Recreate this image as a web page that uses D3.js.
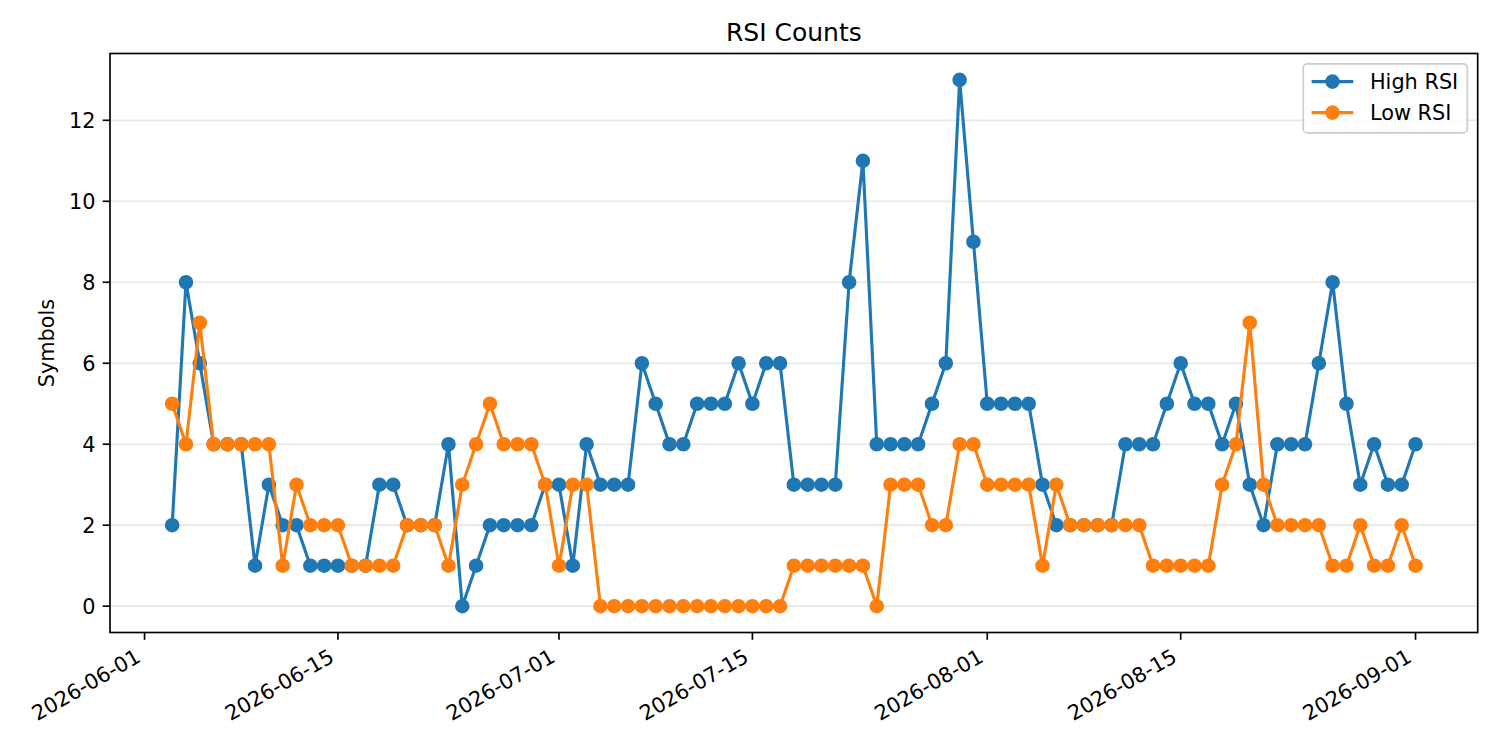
<!DOCTYPE html>
<html>
<head>
<meta charset="utf-8">
<script src="https://cdn.jsdelivr.net/npm/d3@7"></script>
<style>
    body { margin: 0; background: #fff; }
    svg { display: block; font-family: "DejaVu Sans", sans-serif; }
</style>
</head>
<body>
<svg id="chart" width="1500" height="750"></svg>
<script>
// one point per day, 2026-06-03 .. 2026-09-01
const firstDay = "2026-06-03";
const lastDay = "2026-09-01";

const highRsi = [
    2, 8, 6, 4, 4, 4, 1, 3, 2, 2, 1, 1, 1, 1, 1, 3, 3, 2, 2, 2, 4, 0, 1, 2, 2, 2, 2, 3,
    3, 1, 4, 3, 3, 3, 6, 5, 4, 4, 5, 5, 5, 6, 5, 6, 6, 3, 3, 3, 3, 8, 11, 4, 4, 4, 4, 5, 6, 13, 9,
    5, 5, 5, 5, 3, 2, 2, 2, 2, 2, 4, 4, 4, 5, 6, 5, 5, 4, 5, 3, 2, 4, 4, 4, 6, 8, 5, 3, 4, 3, 3,
    4
];
const lowRsi = [
    5, 4, 7, 4, 4, 4, 4, 4, 1, 3, 2, 2, 2, 1, 1, 1, 1, 2, 2, 2, 1, 3, 4, 5, 4, 4, 4, 3,
    1, 3, 3, 0, 0, 0, 0, 0, 0, 0, 0, 0, 0, 0, 0, 0, 0, 1, 1, 1, 1, 1, 1, 0, 3, 3, 3, 2, 2, 4, 4,
    3, 3, 3, 3, 1, 3, 2, 2, 2, 2, 2, 2, 1, 1, 1, 1, 1, 3, 4, 7, 3, 2, 2, 2, 2, 1, 1, 2, 1, 1, 2,
    1
];

const seriesNames = ["High RSI", "Low RSI"];
const seriesColors = ["#1f77b4", "#ff7f0e"];

const xTicks = ["2026-06-01", "2026-06-15", "2026-07-01", "2026-07-15", "2026-08-01", "2026-08-15", "2026-09-01"];
const yTicks = [0, 2, 4, 6, 8, 10, 12];

// sizes follow a 10x5in figure at 150dpi
const pt = 150 / 72;
const box = { left: 110, top: 53.5, right: 1477.7, bottom: 632.5 };
const fontSize = 10 * pt;

const parseDay = d3.utcParse("%Y-%m-%d");
let dates = d3.utcDay.range(parseDay(firstDay), d3.utcDay.offset(parseDay(lastDay), 1));

// matplotlib style 5% margins
let x0 = parseDay(firstDay), x1 = parseDay(lastDay);
let xPad = (x1 - x0) * 0.05;
let x = d3.scaleUtc()
    .domain([new Date(+x0 - xPad), new Date(+x1 + xPad)])
    .range([box.left, box.right]);

let yMax = d3.max(highRsi.concat(lowRsi));
let y = d3.scaleLinear()
    .domain([-yMax * 0.05, yMax * 1.05])
    .range([box.bottom, box.top]);

let svg = d3.select("#chart");

// horizontal grid
svg.append("g")
    .selectAll("line")
    .data(yTicks)
    .enter()
    .append("line")
    .attr("x1", box.left)
    .attr("x2", box.right)
    .attr("y1", d => y(d))
    .attr("y2", d => y(d))
    .attr("stroke", "#b0b0b0")
    .attr("stroke-opacity", 0.3)
    .attr("stroke-width", 0.8 * pt);

// series
let lineGen = d3.line()
    .x((d, i) => x(dates[i]))
    .y(d => y(d));

[highRsi, lowRsi].forEach((values, k) => {
    let g = svg.append("g");
    g.append("path")
        .datum(values)
        .attr("d", lineGen)
        .attr("fill", "none")
        .attr("stroke", seriesColors[k])
        .attr("stroke-width", 1.5 * pt)
        .attr("stroke-linejoin", "round");
    g.selectAll("circle")
        .data(values)
        .enter()
        .append("circle")
        .attr("cx", (d, i) => x(dates[i]))
        .attr("cy", d => y(d))
        .attr("r", 3 * pt)
        .attr("fill", seriesColors[k])
        .attr("stroke", seriesColors[k])
        .attr("stroke-width", 1 * pt);
});

// frame
svg.append("rect")
    .attr("x", box.left)
    .attr("y", box.top)
    .attr("width", box.right - box.left)
    .attr("height", box.bottom - box.top)
    .attr("fill", "none")
    .attr("stroke", "#000")
    .attr("stroke-width", 0.8 * pt);

// x axis, labels rotated like autofmt_xdate
let tickLen = 3.5 * pt, tickPad = 3.5 * pt;
let xAxis = svg.append("g");
xTicks.forEach(t => {
    let px = x(parseDay(t));
    xAxis.append("line")
        .attr("x1", px).attr("x2", px)
        .attr("y1", box.bottom).attr("y2", box.bottom + tickLen)
        .attr("stroke", "#000")
        .attr("stroke-width", 0.8 * pt);
    let ax = px - 0.24 * fontSize * 0.5;
    let ay = box.bottom + tickLen + tickPad + 0.76 * fontSize * 0.866;
    xAxis.append("text")
        .attr("transform", `translate(${ax},${ay}) rotate(-30)`)
        .attr("text-anchor", "end")
        .attr("font-size", fontSize)
        .attr("fill", "#000")
        .text(t);
});

// y axis
let yAxis = svg.append("g");
yTicks.forEach(t => {
    let py = y(t);
    yAxis.append("line")
        .attr("x1", box.left - tickLen).attr("x2", box.left)
        .attr("y1", py).attr("y2", py)
        .attr("stroke", "#000")
        .attr("stroke-width", 0.8 * pt);
    yAxis.append("text")
        .attr("x", box.left - tickLen - tickPad)
        .attr("y", py + 0.365 * fontSize)
        .attr("text-anchor", "end")
        .attr("font-size", fontSize)
        .attr("fill", "#000")
        .text(t);
});

svg.append("text")
    .attr("transform", `translate(54,${(box.top + box.bottom) / 2}) rotate(-90)`)
    .attr("text-anchor", "middle")
    .attr("font-size", fontSize)
    .attr("fill", "#000")
    .text("Symbols");

svg.append("text")
    .attr("x", (box.left + box.right) / 2)
    .attr("y", box.top - 6 * pt)
    .attr("text-anchor", "middle")
    .attr("font-size", 12 * pt)
    .attr("fill", "#000")
    .text("RSI Counts");

// legend, upper right
let legW = 164, legH = 69;
let legX = box.right - 0.5 * fontSize - legW;
let legY = box.top + 0.5 * fontSize;
let legend = svg.append("g");
legend.append("rect")
    .attr("x", legX)
    .attr("y", legY)
    .attr("width", legW)
    .attr("height", legH)
    .attr("rx", 4)
    .attr("fill", "#fff")
    .attr("fill-opacity", 0.8)
    .attr("stroke", "#cccccc")
    .attr("stroke-width", 0.8 * pt);

seriesNames.forEach((name, k) => {
    let rowY = legY + 17.7 + k * 31;
    let hx0 = legX + 0.4 * fontSize, hx1 = hx0 + 2 * fontSize;
    legend.append("line")
        .attr("x1", hx0).attr("x2", hx1)
        .attr("y1", rowY).attr("y2", rowY)
        .attr("stroke", seriesColors[k])
        .attr("stroke-width", 1.5 * pt);
    legend.append("circle")
        .attr("cx", (hx0 + hx1) / 2)
        .attr("cy", rowY)
        .attr("r", 3 * pt)
        .attr("fill", seriesColors[k])
        .attr("stroke", seriesColors[k])
        .attr("stroke-width", 1 * pt);
    legend.append("text")
        .attr("x", hx1 + 0.8 * fontSize)
        .attr("y", rowY + 0.365 * fontSize)
        .attr("font-size", fontSize)
        .attr("fill", "#000")
        .text(name);
});
</script>
</body>
</html>
